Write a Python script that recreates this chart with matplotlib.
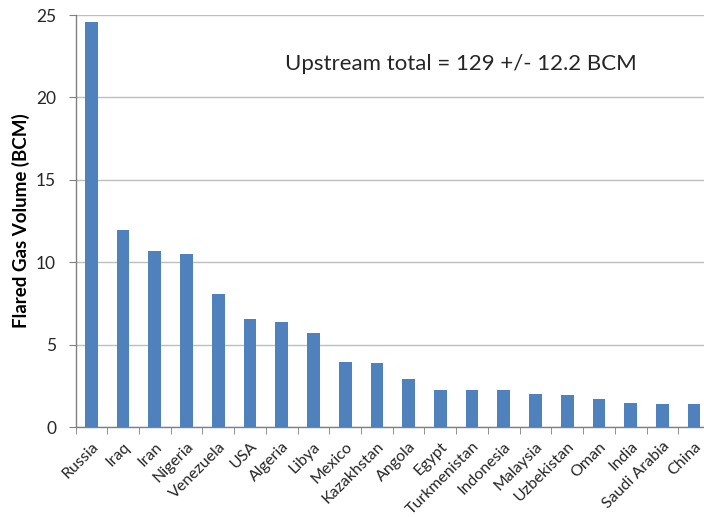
import matplotlib
matplotlib.use("Agg")
import matplotlib.pyplot as plt
import numpy as np

countries = ["Russia", "Iraq", "Iran", "Nigeria", "Venezuela", "USA", "Algeria", "Libya",
             "Mexico", "Kazakhstan", "Angola", "Egypt", "Turkmenistan", "Indonesia",
             "Malaysia", "Uzbekistan", "Oman", "India", "Saudi Arabia", "China"]
volumes = [24.6, 11.95, 10.7, 10.5, 8.1, 6.55, 6.35, 5.7, 3.95, 3.9, 2.9, 2.25, 2.25, 2.25,
           2.0, 1.92, 1.72, 1.48, 1.42, 1.38]
y_ticks = [0, 5, 10, 15, 20, 25]

plt.rcParams['font.family'] = ['Lato', 'DejaVu Sans']
text_color = '#262626'
grid_color = '#BEBEBE'

fig = plt.figure(figsize=(7.04, 5.17), dpi=100)
ax = fig.add_axes([75.5/704, 1 - 427/517, (710 - 75.5)/704, (427 - 15)/517])

x = np.arange(len(countries))
ax.bar(x, volumes, width=0.4, color='#4F81BD', zorder=3)

ax.set_xlim(-0.5, len(countries) - 0.5)
ax.set_ylim(0, 25)
ax.set_yticks(y_ticks)
ax.yaxis.grid(True, color=grid_color, linewidth=1, zorder=0)
ax.set_axisbelow(True)

ax.set_xticks(x)
ax.set_xticklabels(countries, rotation=45, ha='right', rotation_mode='anchor',
                   fontsize=11.5, color=text_color)
ax.set_xticks(np.arange(-0.5, len(countries)), minor=True)
ax.tick_params(axis='x', which='major', length=0, pad=9)
ax.tick_params(axis='x', which='minor', length=5, color='#808080', direction='out')
ax.tick_params(axis='y', length=5, color='#808080', labelsize=12.5, labelcolor=text_color, pad=9)

for s in ['top', 'right']:
    ax.spines[s].set_visible(False)
for s in ['left', 'bottom']:
    ax.spines[s].set_color('#808080')
    ax.spines[s].set_linewidth(1)

ax.set_ylabel('Flared Gas Volume (BCM)', fontsize=13.5, fontweight='bold', color='black', labelpad=4)

ax.text(6.1, 22.0, 'Upstream total = 129 +/- 12.2 BCM', fontsize=16, color=text_color,
        ha='left', va='center')

fig.savefig('out.png', dpi=100)
